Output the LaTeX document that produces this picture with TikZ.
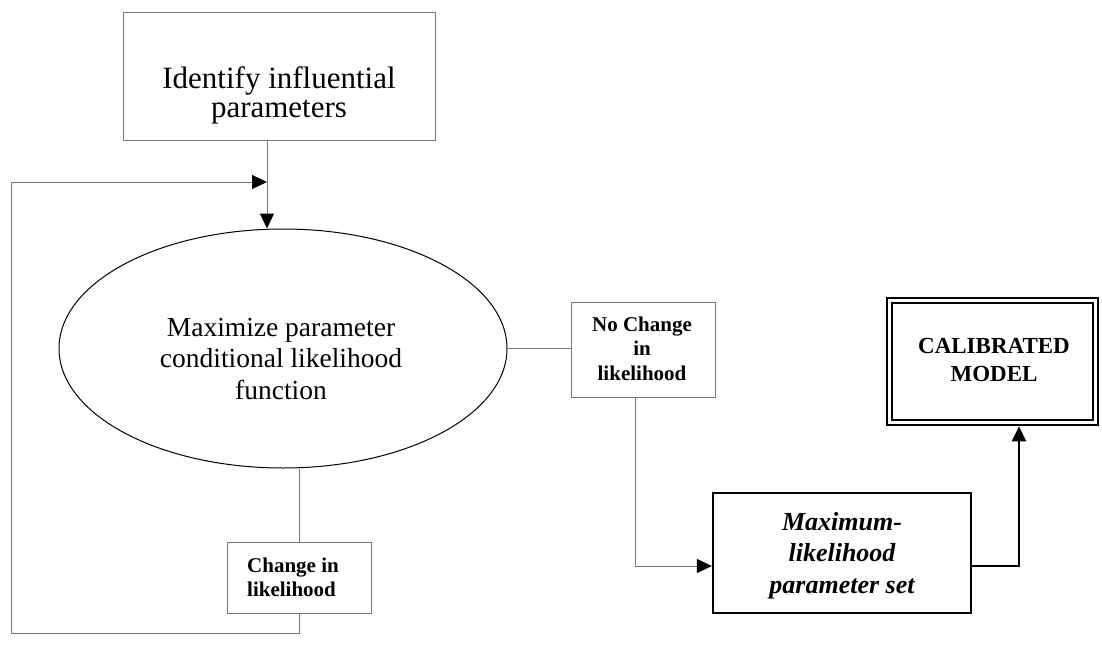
\documentclass[tikz,border=0pt]{standalone}
\usepackage{fontspec}
\setmainfont{Liberation Serif}
\usetikzlibrary{arrows.meta,shapes.geometric}
\definecolor{linegray}{RGB}{120,120,120}
\begin{document}
\begin{tikzpicture}[x=1pt,y=-1pt,
  gline/.style={draw=linegray, line width=1pt},
  bline/.style={draw=black, line width=2.4pt},
  arr/.style={-{Triangle[length=15pt,width=14pt,color=black]}},
  gbox/.style={draw=linegray, line width=1pt, rectangle, inner sep=0pt},
  txt/.style={inner sep=0pt, align=center}
]
\useasboundingbox (0,0) rectangle (1102,666);

% shapes
\node[gbox, minimum width=312pt, minimum height=127pt] (top) at (279,76.5) {};
\node[txt, font=\fontsize{31}{29}\selectfont] (toptext) at (279,95.8) {Identify influential\\parameters};

\node[ellipse, draw=black, line width=1pt, inner sep=0pt, minimum width=448pt, minimum height=239pt] (ell) at (283,348.5) {};
\node[txt, font=\fontsize{27.5}{31.7}\selectfont] (elltext) at (281,359) {Maximize parameter\\conditional likelihood\\function};

\node[gbox, minimum width=144pt, minimum height=95pt] (nc) at (643,349.5) {};
\node[txt, font=\fontsize{21}{24.2}\selectfont\bfseries] (nctext) at (642,348.8) {No Change\\in\\likelihood};

\node[gbox, minimum width=144pt, minimum height=71pt] (ch) at (299,577.5) {};
\node[inner sep=0pt, align=left, anchor=west, font=\fontsize{21}{24.4}\selectfont\bfseries] (chtext) at (247,577.4) {Change in\\likelihood};

\node[draw=black, line width=2.2pt, rectangle, inner sep=0pt, minimum width=258pt, minimum height=120pt] (mx) at (842,553) {};
\node[txt, font=\fontsize{26}{31.5}\selectfont\bfseries\itshape] (mxtext) at (842,555.6) {Maximum-\\likelihood\\parameter set};

\node[draw=black, line width=2.6pt, rectangle, inner sep=0pt, minimum width=211pt, minimum height=127pt] (cal) at (992.5,361.5) {};
\draw[black, line width=1.8pt] ([shift={(6.5pt,-6.5pt)}]cal.north west) rectangle ([shift={(-6.5pt,6.5pt)}]cal.south east);
\node[txt, font=\fontsize{23}{28.4}\selectfont\bfseries] (caltext) at (994,359.8) {CALIBRATED\\MODEL};

% connectors
\coordinate (join) at (267,182);
\coordinate (fb) at (11,633);
\draw[gline, arr] (top.south -| join) -- (ell.north -| join);
\draw[gline] (ell.east) -- (ell.east -| nc.west);
\draw[gline, arr] ([xshift=-8pt]nc.south) |- ([yshift=-13pt]mx.west);
\draw[bline, arr] ([yshift=-13pt]mx.east) -| ([xshift=26.5pt]cal.south);
\draw[gline] (ch.north) -- (ell.south -| ch.north);
\draw[gline, arr] (ch.south) |- (fb) |- (join);
\end{tikzpicture}
\end{document}
